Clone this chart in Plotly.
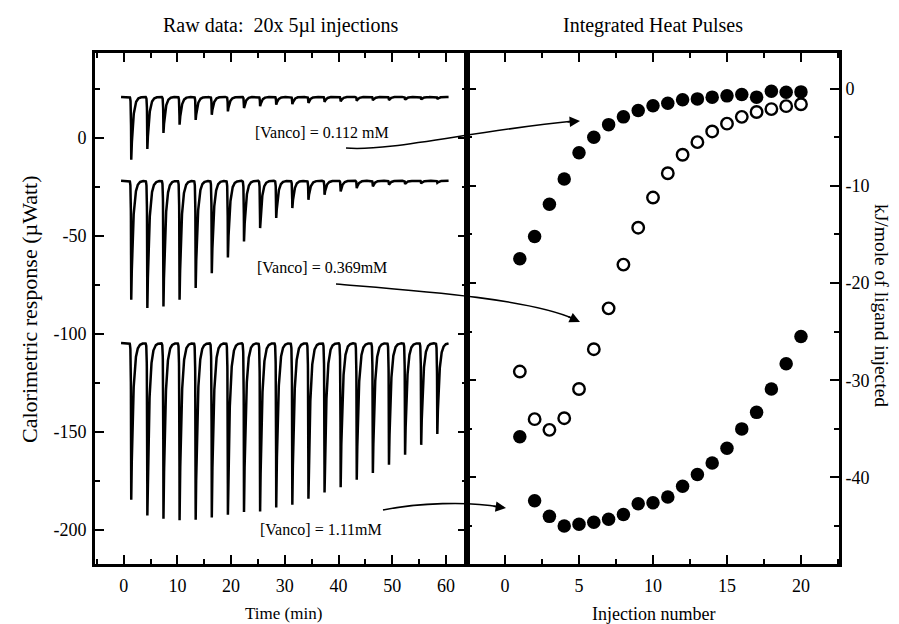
import numpy as np
import plotly.graph_objects as go

# ---------------- data ----------------
injection_number = list(range(1, 21))

# integrated heats (kJ/mol of ligand injected)
heat_0112 = [-17.5, -15.2, -11.9, -9.3, -6.6, -5.0, -3.7, -2.9, -2.25, -1.75,
             -1.5, -1.15, -1.05, -0.87, -0.74, -0.61, -0.87, -0.26, -0.36, -0.33]
heat_0369 = [-29.1, -34.0, -35.1, -33.9, -30.9, -26.8, -22.6, -18.1, -14.3, -11.2,
             -8.7, -6.8, -5.5, -4.4, -3.6, -2.9, -2.4, -2.1, -1.8, -1.6]
heat_111 = [-35.8, -42.4, -44.0, -45.0, -44.8, -44.6, -44.3, -43.8, -42.7, -42.6,
            -42.0, -40.9, -39.7, -38.5, -37.0, -35.0, -33.3, -30.9, -28.3, -25.5]

# raw thermograms: injection times (min), baselines and peak minima (uW)
injection_time = [1.4 + 3 * k for k in range(20)]
baseline_0112 = 21.0
peak_0112 = [-11.1, -5.6, 2.6, 6.8, 9.3, 11.9, 13.6, 15.3, 16.2, 17.0,
             17.3, 17.9, 18.4, 18.7, 19.0, 19.2, 19.4, 19.5, 19.7, 19.9]
baseline_0369 = -21.8
peak_0369 = [-82.5, -86.7, -85.9, -82.5, -76.5, -68.9, -60.9, -52.7, -45.9, -40.8,
             -35.7, -31.5, -28.9, -27.2, -25.5, -24.7, -23.8, -23.5, -23.1, -22.8]
baseline_111 = -104.6
peak_111 = [-184.5, -192.5, -194.2, -194.9, -194.7, -193.5, -192.2, -190.8, -190.5, -188.4,
            -187.1, -184.0, -180.8, -178.1, -174.3, -170.9, -166.7, -161.6, -156.5, -150.9]

labels = ["[Vanco] = 0.112 mM", "[Vanco] = 0.369mM", "[Vanco] = 1.11mM"]

# tick labels (hyphen minus as in the original)
time_ticks = [0, 10, 20, 30, 40, 50, 60]
power_ticks = [-200, -150, -100, -50, 0]
inj_ticks = [0, 5, 10, 15, 20]
heat_ticks = [-40, -30, -20, -10, 0]

# ---------------- build thermogram lines ----------------
t = np.round(np.arange(-0.5, 60.51, 0.01), 2)


def thermogram(base, peaks):
    y = np.full_like(t, base, dtype=float)
    for t0, pk in zip(injection_time, peaks):
        depth = base - pk
        dt = t - t0
        k = np.where(dt < 0, np.exp(np.clip(dt, -50, 0) / 0.05), np.exp(-np.clip(dt, 0, 50) / 0.36))
        y -= depth * k
    return y


FONT = "Liberation Serif"
fig = go.Figure()

for base, pk in [(baseline_0112, peak_0112), (baseline_0369, peak_0369), (baseline_111, peak_111)]:
    fig.add_trace(go.Scatter(x=t, y=thermogram(base, pk), mode="lines",
                             line=dict(color="black", width=2.5), xaxis="x", yaxis="y",
                             showlegend=False, hoverinfo="skip"))

fig.add_trace(go.Scatter(x=injection_number, y=heat_0112, mode="markers",
                         marker=dict(symbol="circle", size=13.5, color="black"),
                         xaxis="x2", yaxis="y2", showlegend=False))
fig.add_trace(go.Scatter(x=injection_number, y=heat_0369, mode="markers",
                         marker=dict(symbol="circle-open", size=11.5, color="black", line=dict(width=2.4)),
                         xaxis="x2", yaxis="y2", showlegend=False))
fig.add_trace(go.Scatter(x=injection_number, y=heat_111, mode="markers",
                         marker=dict(symbol="circle", size=13.5, color="black"),
                         xaxis="x2", yaxis="y2", showlegend=False))

W, H = 899, 624
L, R, T, B = 87, 68, 45, 68
PW, PH = W - L - R, H - T - B


def px(x):
    return (x - L) / PW


def py(y):
    return (H - B - y) / PH


def lab(v):
    return ["-" + str(abs(x)) if x < 0 else str(x) for x in v]


axis_common = dict(showline=True, linecolor="black", linewidth=2.6, mirror="allticks",
                   ticks="inside", ticklen=9, tickwidth=2, tickcolor="black",
                   showgrid=False, zeroline=False, tickmode="array",
                   tickfont=dict(family=FONT, size=18, color="black"))
minor_common = dict(ticks="inside", ticklen=5, tickwidth=2, tickcolor="black", showgrid=False)

fig.update_layout(
    width=W, height=H, margin=dict(l=L, r=R, t=T, b=B),
    paper_bgcolor="white", plot_bgcolor="white",
    xaxis=dict(domain=[0, 0.5], range=[-5.35, 63.93], tickvals=time_ticks, ticktext=lab(time_ticks),
               minor=dict(dtick=5, tick0=0, **minor_common), ticklabelstandoff=4, anchor="y", **axis_common),
    yaxis=dict(domain=[0, 1], range=[-217.3, 43.4], tickvals=power_ticks, ticktext=lab(power_ticks),
               minor=dict(dtick=25, tick0=0, **minor_common), anchor="x", ticklabelstandoff=2, **axis_common),
    xaxis2=dict(domain=[0.5, 1], range=[-2.57, 22.57], tickvals=inj_ticks, ticktext=lab(inj_ticks),
                minor=dict(dtick=2.5, tick0=0, **minor_common), ticklabelstandoff=4, anchor="y2", **axis_common),
    yaxis2=dict(domain=[0, 1], range=[-48.9, 3.67], tickvals=heat_ticks, ticktext=lab(heat_ticks), side="right",
                minor=dict(dtick=5, tick0=0, **minor_common), anchor="x2", ticklabelstandoff=0, **axis_common),
)

top_font = dict(family=FONT, size=20, color="black")
lab_font = dict(family=FONT, size=16, color="black")
ann = [
    dict(text="Raw data:  20x 5µl injections", x=px(273), y=py(17), font=top_font),
    dict(text="Integrated Heat Pulses", x=px(645), y=py(17), font=top_font),
    dict(text="Time (min)", x=px(275), y=py(606), font=dict(family=FONT, size=17, color="black")),
    dict(text="Injection number", x=px(645), y=py(606), font=dict(family=FONT, size=18, color="black")),
    dict(text="Calorimetric response (µWatt)", x=px(21), y=py(302), textangle=-90,
         font=dict(family=FONT, size=22, color="black")),
    dict(text="kJ/mole of ligand injected", x=px(874), y=py(297), textangle=90,
         font=dict(family=FONT, size=19.5, color="black")),
    dict(text=labels[0], x=px(314), y=py(124), font=lab_font),
    dict(text=labels[1], x=px(314), y=py(259), font=lab_font),
    dict(text=labels[2], x=px(313), y=py(521), font=lab_font),
]
for a in ann:
    a.update(xref="paper", yref="paper", showarrow=False, xanchor="center", yanchor="middle")
    fig.add_annotation(**a)

# curved arrows (pixel geometry converted to paper units)
curves = [
    [(338, 140), (380, 144), (470, 122), (566, 113)],
    [(328, 276), (400, 282), (520, 290), (566, 311)],
    [(375, 502), (410, 495), (460, 493), (492, 499)],
]
heads = [((572, 113), (-14, 1)), ((572, 314), (-13, -6)), ((498, 500), (-14, -2))]
for c in curves:
    p = "M {},{} C {},{} {},{} {},{}".format(*sum([[px(a), py(b)] for a, b in c], []))
    fig.add_shape(type="path", path=p, xref="paper", yref="paper",
                  line=dict(color="black", width=1.6))
for (hx, hy), (ax, ay) in heads:
    fig.add_annotation(x=px(hx), y=py(hy), xref="paper", yref="paper", text="",
                       showarrow=True, ax=ax, ay=ay, axref="pixel", ayref="pixel",
                       arrowhead=2, arrowsize=1.3, arrowwidth=1.6, arrowcolor="black")

fig.write_html("out.html")
